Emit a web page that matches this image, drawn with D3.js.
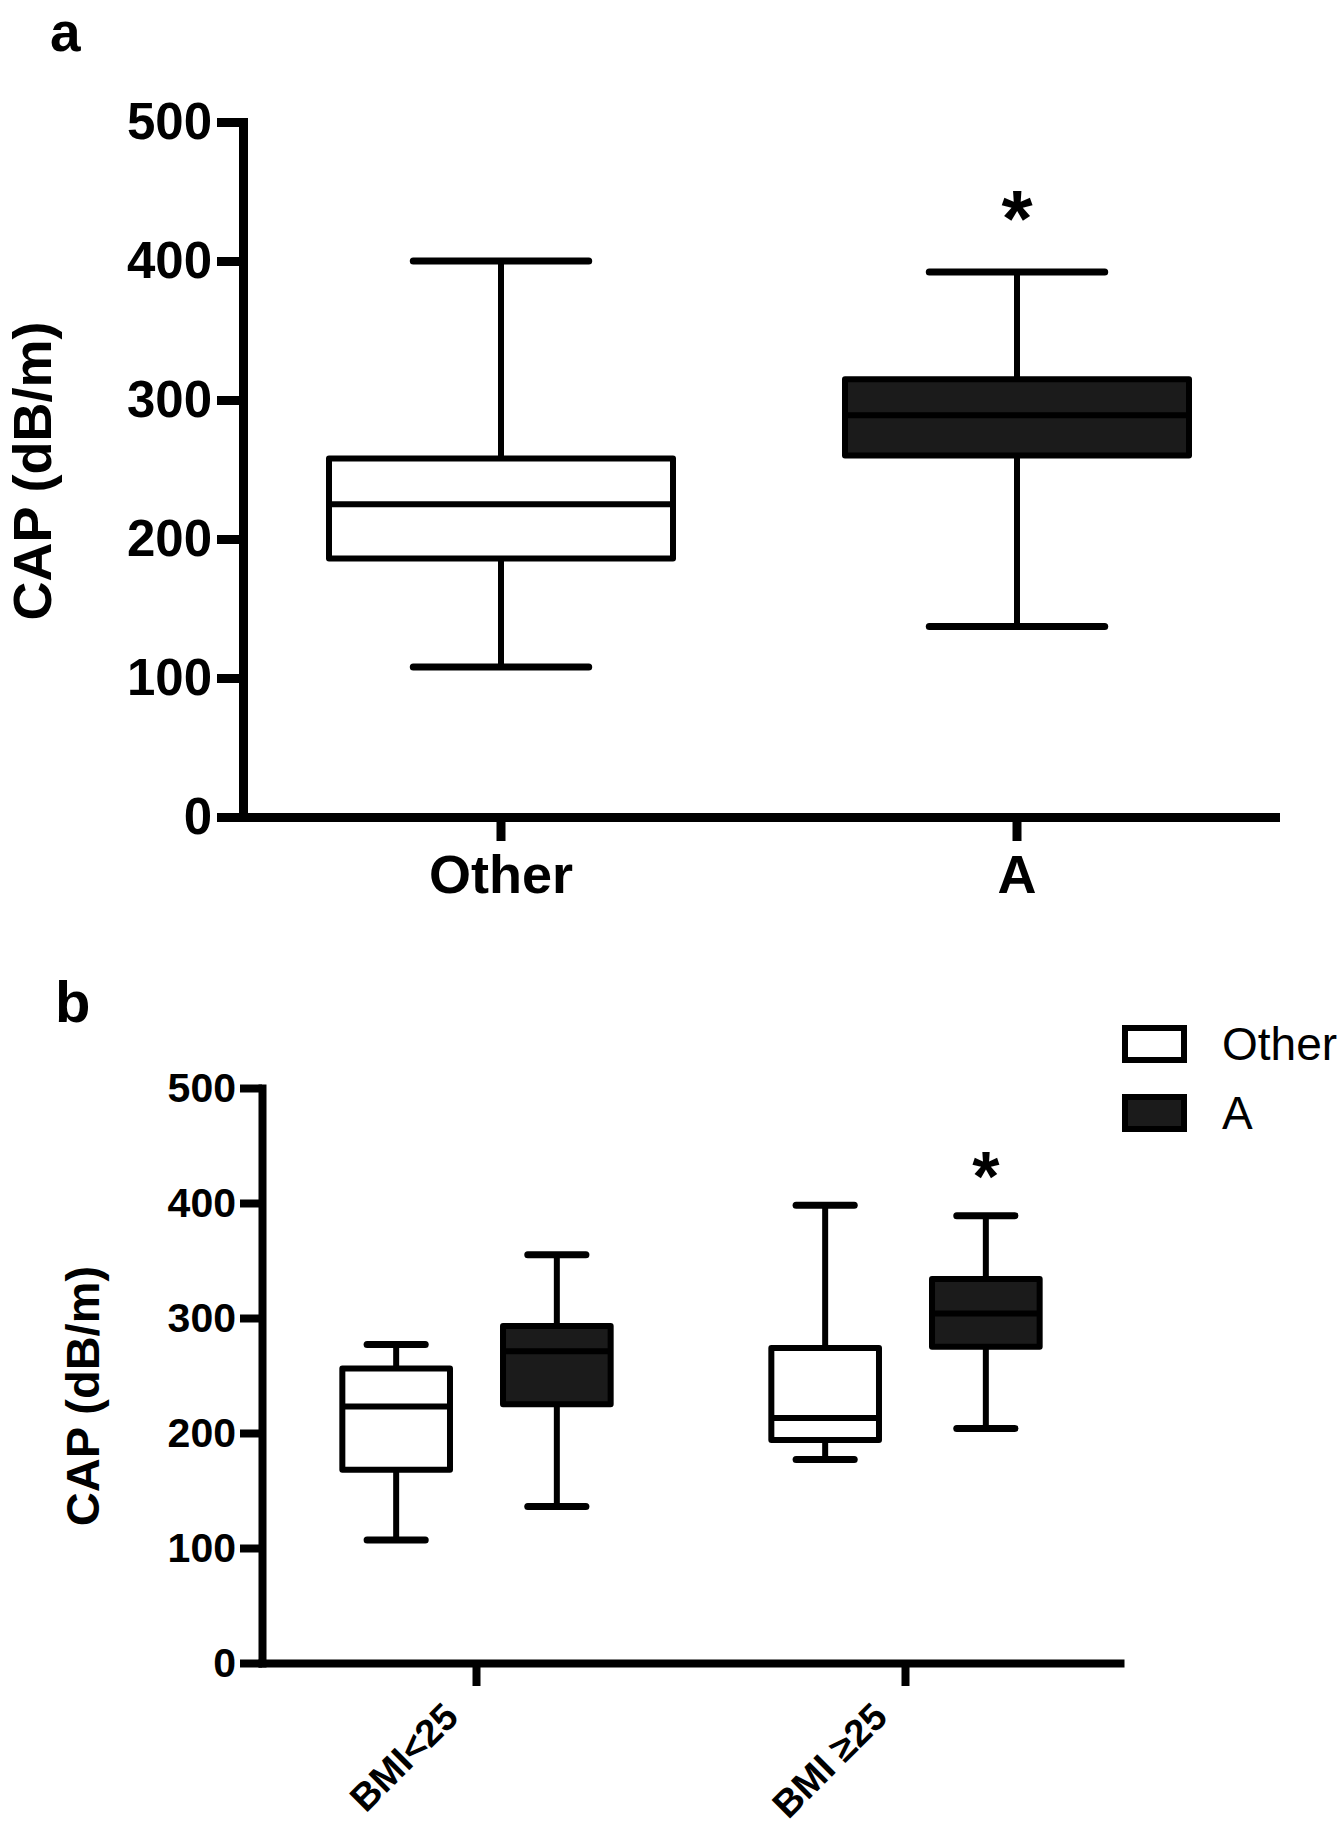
<!DOCTYPE html>
<html>
<head>
<meta charset="utf-8">
<script src="https://cdn.jsdelivr.net/npm/d3@7"></script>
<style>
  body { margin: 0; background: #fff; }
  svg text { font-family: "Liberation Sans", Arial, Helvetica, sans-serif; fill: #000; }
</style>
</head>
<body>
<div id="chart"></div>
<script>
// ---- data, panel a ----
const groupsA = ["Other", "A"];
const minA = [108, 137];
const q1A = [186, 260];
const medA = [225, 289];
const q3A = [258, 315];
const maxA = [400, 392];
const starsA = ["", "*"];

// ---- data, panel b ----  (rows = BMI group, columns = series)
const groupsB = ["BMI<25", "BMI \u226525"];
const seriesB = ["Other", "A"];
const minB = [[107, 136], [177, 204]];
const q1B = [[168, 225], [194, 275]];
const medB = [[223, 271], [213, 304]];
const q3B = [[256, 293], [274, 334]];
const maxB = [[277, 355], [398, 389]];
const starsB = [["", ""], ["", "*"]];

const yTicks = [0, 100, 200, 300, 400, 500];
const yTitle = "CAP (dB/m)";

const fill = d3.scaleOrdinal().domain(seriesB).range(["#ffffff", "#1b1b1b"]);

const svg = d3.select("#chart").append("svg")
  .attr("width", 1341)
  .attr("height", 1843);


function styleAxis(g, width, fontSize) {
  g.select(".domain").attr("stroke", "#000").attr("stroke-width", width)
    .attr("stroke-linecap", "square");
  g.selectAll(".tick line").attr("stroke", "#000").attr("stroke-width", width);
  g.selectAll(".tick text")
    .attr("font-size", fontSize + "px")
    .attr("font-weight", "bold")
    .attr("fill", "#000");
}


// one box: whiskers, caps, box, median
function drawBox(g, y, cx, halfW, capHalf, s, color) {
  g.append("line")
    .attr("x1", cx).attr("x2", cx)
    .attr("y1", y(s.max)).attr("y2", y(s.q3))
    .attr("stroke", "#000").attr("stroke-width", 6);
  g.append("line")
    .attr("x1", cx).attr("x2", cx)
    .attr("y1", y(s.q1)).attr("y2", y(s.min))
    .attr("stroke", "#000").attr("stroke-width", 6);
  [s.max, s.min].forEach(function(v) {
    g.append("line")
      .attr("x1", cx - capHalf).attr("x2", cx + capHalf)
      .attr("y1", y(v)).attr("y2", y(v))
      .attr("stroke", "#000").attr("stroke-width", 7)
      .attr("stroke-linecap", "round");
  });
  g.append("rect")
    .attr("x", cx - halfW).attr("width", halfW * 2)
    .attr("y", y(s.q3)).attr("height", y(s.q1) - y(s.q3))
    .attr("fill", color)
    .attr("stroke", "#000").attr("stroke-width", 6)
    .attr("stroke-linejoin", "round");
  g.append("line")
    .attr("x1", cx - halfW).attr("x2", cx + halfW)
    .attr("y1", y(s.med)).attr("y2", y(s.med))
    .attr("stroke", "#000").attr("stroke-width", 6);
}


function drawStar(g, y, cx, v, size, gap) {
  g.append("text")
    .attr("x", cx)
    .attr("y", y(v) - gap)
    .attr("text-anchor", "middle")
    .attr("font-size", size + "px")
    .attr("font-weight", "bold")
    .text("*");
}


// ================= panel a =================
const yA = d3.scaleLinear().domain([0, 500]).range([817, 122]);
const xA = d3.scaleBand().domain(groupsA).range([243, 1275]);

svg.append("g")
  .attr("transform", "translate(243,0)")
  .call(d3.axisLeft(yA).tickValues(yTicks).tickSize(26).tickSizeOuter(0).tickPadding(5))
  .call(styleAxis, 9, 51);

svg.append("g")
  .attr("transform", "translate(0,817)")
  .call(d3.axisBottom(xA).tickSize(24).tickSizeOuter(0).tickPadding(14))
  .call(styleAxis, 9, 54);

const boxesA = svg.append("g");
groupsA.forEach(function(c, i) {
  const cx = xA(c) + xA.bandwidth() / 2;
  const stats = { min: minA[i], q1: q1A[i], med: medA[i], q3: q3A[i], max: maxA[i] };
  drawBox(boxesA, yA, cx, xA.bandwidth() / 3, xA.bandwidth() * 0.17, stats, fill(seriesB[i]));
  if (starsA[i]) drawStar(boxesA, yA, cx, maxA[i], 80, 26);
});

svg.append("text")
  .attr("transform", "translate(51,471) rotate(-90)")
  .attr("text-anchor", "middle")
  .attr("font-size", "54px")
  .attr("font-weight", "bold")
  .text(yTitle);

svg.append("text")
  .attr("x", 50).attr("y", 51)
  .attr("font-size", "55px")
  .attr("font-weight", "bold")
  .text("a");


// ================= panel b =================
const yB = d3.scaleLinear().domain([0, 500]).range([1663, 1088]);
const xB = d3.scaleBand().domain(groupsB).range([262, 1120]);
const xSub = d3.scaleBand().domain(seriesB).range([0, xB.bandwidth()])
  .paddingInner(0.33).paddingOuter(0.5);

svg.append("g")
  .attr("transform", "translate(262,0)")
  .call(d3.axisLeft(yB).tickValues(yTicks).tickSize(22).tickSizeOuter(0).tickPadding(4))
  .call(styleAxis, 8, 41);

const xAxisB = svg.append("g")
  .attr("transform", "translate(0,1663)")
  .call(d3.axisBottom(xB).tickSize(23).tickSizeOuter(0))
  .call(styleAxis, 8, 38);

// rotated group labels
xAxisB.selectAll(".tick text")
  .attr("y", 0).attr("dy", 0)
  .attr("text-anchor", "end")
  .attr("transform", "translate(-16,56) rotate(-45)");

const boxesB = svg.append("g");
groupsB.forEach(function(grp, gi) {
  seriesB.forEach(function(ser, si) {
    const cx = xB(grp) + xSub(ser) + xSub.bandwidth() / 2;
    const stats = { min: minB[gi][si], q1: q1B[gi][si], med: medB[gi][si],
                    q3: q3B[gi][si], max: maxB[gi][si] };
    drawBox(boxesB, yB, cx, xSub.bandwidth() / 2, xSub.bandwidth() * 0.27, stats, fill(ser));
    if (starsB[gi][si]) drawStar(boxesB, yB, cx, maxB[gi][si], 70, 15);
  });
});

svg.append("text")
  .attr("transform", "translate(99,1396) rotate(-90)")
  .attr("text-anchor", "middle")
  .attr("font-size", "47px")
  .attr("font-weight", "bold")
  .text(yTitle);

svg.append("text")
  .attr("x", 55).attr("y", 1022)
  .attr("font-size", "58px")
  .attr("font-weight", "bold")
  .text("b");

// legend
const legend = svg.append("g").attr("transform", "translate(1122,1025)");
seriesB.forEach(function(ser, i) {
  legend.append("rect")
    .attr("x", 3).attr("y", i * 69 + 3)
    .attr("width", 59).attr("height", 32)
    .attr("fill", fill(ser))
    .attr("stroke", "#000").attr("stroke-width", 6);
  legend.append("text")
    .attr("x", 100).attr("y", i * 69 + 35)
    .attr("font-size", "46px")
    .text(ser);
});
</script>
</body>
</html>
